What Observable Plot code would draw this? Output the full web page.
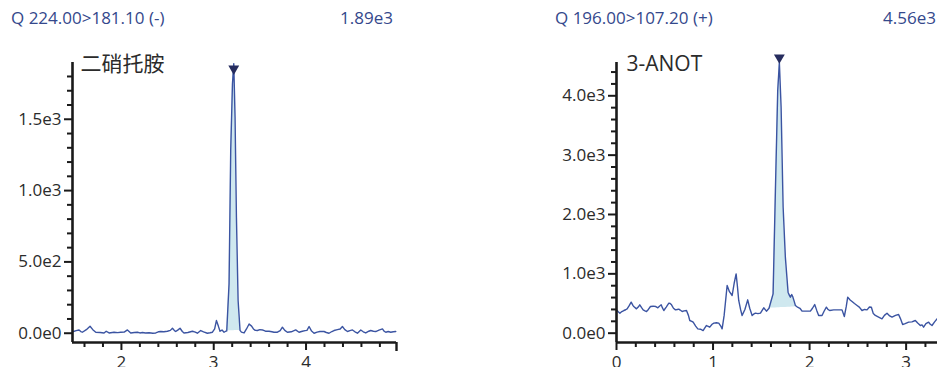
<!DOCTYPE html>
<html>
<head>
<meta charset="utf-8">
<script src="https://cdn.jsdelivr.net/npm/d3@7"></script>
<script src="https://cdn.jsdelivr.net/npm/@observablehq/plot@0.6"></script>
<style>
  html, body { margin: 0; padding: 0; background: #fff; }
  #wrap { position: relative; width: 937px; height: 367px; overflow: hidden; font-family: "Open Sans", sans-serif; }
  .hdr { position: absolute; top: 6px; font-size: 17px; line-height: 24px; color: #34488c; white-space: nowrap; }
  .panel { position: absolute; top: 0; }
</style>
</head>
<body>
<div id="wrap"></div>
<script>
// ---------- Panel 1: 二硝托胺, Q 224.00>181.10 (-) ----------
const title1 = "Q 224.00>181.10 (-)";
const maxLabel1 = "1.89e3";
const compound1 = "二硝托胺";
const time1 = [1.480,1.510,1.541,1.560,1.577,1.620,1.660,1.690,1.722,1.770,1.812,1.835,1.866,1.920,1.960,1.992,2.030,2.065,2.101,2.140,2.173,2.200,2.228,2.260,2.300,2.340,2.372,2.400,2.426,2.460,2.498,2.530,2.553,2.575,2.588,2.610,2.635,2.660,2.678,2.720,2.769,2.800,2.823,2.859,2.890,2.931,2.960,2.986,3.010,3.029,3.050,3.068,3.090,3.112,3.130,3.141,3.166,3.184,3.203,3.217,3.231,3.246,3.264,3.285,3.300,3.329,3.355,3.383,3.410,3.430,3.450,3.473,3.500,3.528,3.560,3.599,3.630,3.653,3.690,3.720,3.744,3.770,3.798,3.840,3.888,3.924,3.960,3.990,4.010,4.033,4.060,4.087,4.120,4.150,4.195,4.220,4.249,4.280,4.303,4.340,4.370,4.394,4.420,4.449,4.475,4.503,4.530,4.557,4.593,4.620,4.647,4.680,4.701,4.730,4.755,4.790,4.828,4.845,4.864,4.890,4.918,4.945,4.972];
const inten1 = [12,18,23,12,7,25,49,25,7,5,2,14,2,7,4,7,8,23,2,5,7,2,5,2,3,0,2,10,12,10,14,20,35,18,12,22,35,12,2,5,14,8,0,19,10,0,3,7,30,89,50,14,22,7,14,16,346,1281,1749,1890,1515,813,229,20,8,2,30,65,50,30,20,19,25,23,14,14,10,7,7,18,42,20,7,10,23,7,14,18,20,47,15,0,8,12,12,5,0,12,19,25,30,47,25,12,18,23,10,0,23,10,2,14,19,14,12,22,30,15,7,12,7,10,12];
const peak1 = {start: 3.141, end: 3.285, baseStart: 16, baseEnd: 20};
const xDomain1 = [1.47, 4.98];
const yDomain1 = [-65, 1898];
const xMajor1 = [2, 3, 4];
const xMinor1 = [1.6,1.8,2.2,2.4,2.6,2.8,3.2,3.4,3.6,3.8,4.2,4.4,4.6,4.8];
const yMajor1 = [0, 500, 1000, 1500];
const yMinor1 = [100,200,300,400,600,700,800,900,1100,1200,1300,1400,1600,1700,1800];

// ---------- Panel 2: 3-ANOT, Q 196.00>107.20 (+) ----------
const title2 = "Q 196.00>107.20 (+)";
const maxLabel2 = "4.56e3";
const compound2 = "3-ANOT";
const time2 = [0.000,0.018,0.035,0.055,0.076,0.095,0.110,0.130,0.152,0.170,0.179,0.207,0.225,0.241,0.260,0.276,0.295,0.311,0.330,0.352,0.380,0.404,0.428,0.445,0.463,0.475,0.490,0.515,0.542,0.556,0.570,0.590,0.611,0.630,0.645,0.660,0.680,0.700,0.725,0.745,0.759,0.780,0.794,0.820,0.842,0.870,0.897,0.915,0.932,0.950,0.966,0.990,1.008,1.035,1.059,1.080,1.094,1.115,1.146,1.170,1.198,1.220,1.239,1.252,1.266,1.285,1.301,1.330,1.359,1.380,1.405,1.420,1.439,1.465,1.491,1.525,1.553,1.580,1.622,1.646,1.670,1.687,1.705,1.726,1.749,1.777,1.790,1.801,1.815,1.825,1.840,1.853,1.870,1.900,1.922,1.960,2.008,2.030,2.053,2.075,2.094,2.129,2.150,2.174,2.190,2.208,2.250,2.300,2.336,2.360,2.380,2.395,2.420,2.440,2.465,2.492,2.515,2.543,2.570,2.595,2.620,2.640,2.660,2.681,2.715,2.750,2.775,2.802,2.830,2.854,2.890,2.922,2.940,2.964,2.990,3.026,3.060,3.095,3.120,3.147,3.165,3.181,3.205,3.233,3.250,3.268,3.295,3.320];
const inten2 = [393,360,337,365,382,395,410,460,523,470,450,410,440,478,430,393,375,365,400,450,455,450,427,455,478,430,382,440,506,500,478,420,393,400,405,390,365,375,382,300,214,200,185,120,73,67,45,90,129,115,101,150,169,175,169,120,73,300,804,700,635,850,1000,800,551,400,298,400,562,420,298,320,337,330,337,428,371,420,663,2404,4089,4560,3808,2123,1281,691,640,607,650,618,540,467,445,420,371,371,371,420,483,380,298,298,370,438,400,382,393,393,393,281,450,607,560,534,500,467,440,382,400,393,440,438,330,298,270,242,300,337,290,270,300,315,250,146,160,186,190,214,170,129,140,101,160,186,150,129,190,242];
const peak2 = {start: 1.580, end: 1.870, baseStart: 420, baseEnd: 445};
const xDomain2 = [0, 3.325];
const yDomain2 = [-157, 4561];
const xMajor2 = [0, 1, 2, 3];
const xMinor2 = [0.2,0.4,0.6,0.8,1.2,1.4,1.6,1.8,2.2,2.4,2.6,2.8,3.2];
const yMajor2 = [0, 1000, 2000, 3000, 4000];
const yMinor2 = [200,400,600,800,1200,1400,1600,1800,2200,2400,2600,2800,3200,3400,3600,3800,4200,4400];

const LINE = "#3b54a2", FILL = "#cfe8ef", MARK = "#262c5e", AXIS = "#1a1a1a", TXT = "#2b2b2b";
const expFmt = d => d.toExponential(1).replace("+", "");

function panel(o) {
  const data = o.time.map((t, i) => ({t, v: o.inten[i]}));
  const p = o.peak;
  const fillData = data.filter(d => d.t >= p.start && d.t <= p.end)
    .map(d => ({t: d.t, v: d.v, base: p.baseStart + (p.baseEnd - p.baseStart) * (d.t - p.start) / (p.end - p.start)}));
  const apex = data.reduce((a, b) => (b.v > a.v ? b : a));
  const marks = [
    Plot.areaY(fillData, {x: "t", y1: "base", y2: "v", fill: FILL}),
    Plot.line(data, {x: "t", y: "v", stroke: LINE, strokeWidth: 1.4}),
    Plot.dot([apex], {x: "t", y: "v", symbol: "triangle2", rotate: 180, r: 5.2, fill: MARK, stroke: "none", dy: o.triDy}),
    Plot.axisY(o.yMajor, {tickSize: 8, tickPadding: 3, tickFormat: expFmt, fontSize: 17, strokeWidth: 2, stroke: AXIS, fill: TXT, label: null}),
    Plot.axisY(o.yMinor, {tickSize: 5, text: null, strokeWidth: 2, stroke: AXIS, label: null}),
    Plot.axisX(o.xMajor, {tickSize: 8, tickPadding: 5, fontSize: 17, strokeWidth: 2, stroke: AXIS, fill: TXT, label: null}),
    Plot.axisX(o.xMinor, {tickSize: 5, text: null, strokeWidth: 2, stroke: AXIS, label: null}),
    Plot.ruleX([o.xDomain[0]], {y1: o.yDomain[0], y2: o.yDomain[1], stroke: AXIS, strokeWidth: 2.6}),
    Plot.ruleY([o.yDomain[0]], {x1: o.xDomain[0], x2: o.xDomain[1], stroke: AXIS, strokeWidth: 2.6}),
    Plot.text([o.compound], {frameAnchor: "top-left", dx: o.labelDx, dy: -6, fontSize: 21, fill: TXT, textAnchor: "start", fontFamily: o.labelFont})
  ];
  if (o.endTick) marks.push(Plot.axisX([o.xDomain[1]], {tickSize: 9, text: null, strokeWidth: 2.4, stroke: AXIS, label: null}));
  return Plot.plot({
    width: o.width, height: 367,
    marginTop: 62, marginBottom: 25, marginLeft: o.marginLeft, marginRight: o.marginRight,
    x: {domain: o.xDomain, label: null},
    y: {domain: o.yDomain, label: null},
    style: {fontFamily: "Open Sans, sans-serif", background: "transparent", overflow: "visible"},
    marks
  });
}

const wrap = document.getElementById("wrap");
function place(el, left) { const d = document.createElement("div"); d.className = "panel"; d.style.left = left + "px"; d.appendChild(el); wrap.appendChild(d); }
function header(text, pos) { const d = document.createElement("div"); d.className = "hdr"; Object.assign(d.style, pos); d.textContent = text; wrap.appendChild(d); }

place(panel({time: time1, inten: inten1, peak: peak1, xDomain: xDomain1, yDomain: yDomain1, xMajor: xMajor1, xMinor: xMinor1, yMajor: yMajor1, yMinor: yMinor1,
  compound: compound1, labelFont: "Noto Sans CJK SC, sans-serif", labelDx: 8, width: 470, marginLeft: 72, marginRight: 74, triDy: 5, endTick: true}), 0);
place(panel({time: time2, inten: inten2, peak: peak2, xDomain: xDomain2, yDomain: yDomain2, xMajor: xMajor2, xMinor: xMinor2, yMajor: yMajor2, yMinor: yMinor2,
  compound: compound2, labelFont: "Open Sans, sans-serif", labelDx: 10, width: 467, marginLeft: 146, marginRight: 0, triDy: -5, endTick: false}), 470);

header(title1, {left: "11px"});
header(maxLabel1, {right: (937 - 393) + "px"});
header(title2, {left: "555px"});
header(maxLabel2, {right: "1px"});
</script>
</body>
</html>
